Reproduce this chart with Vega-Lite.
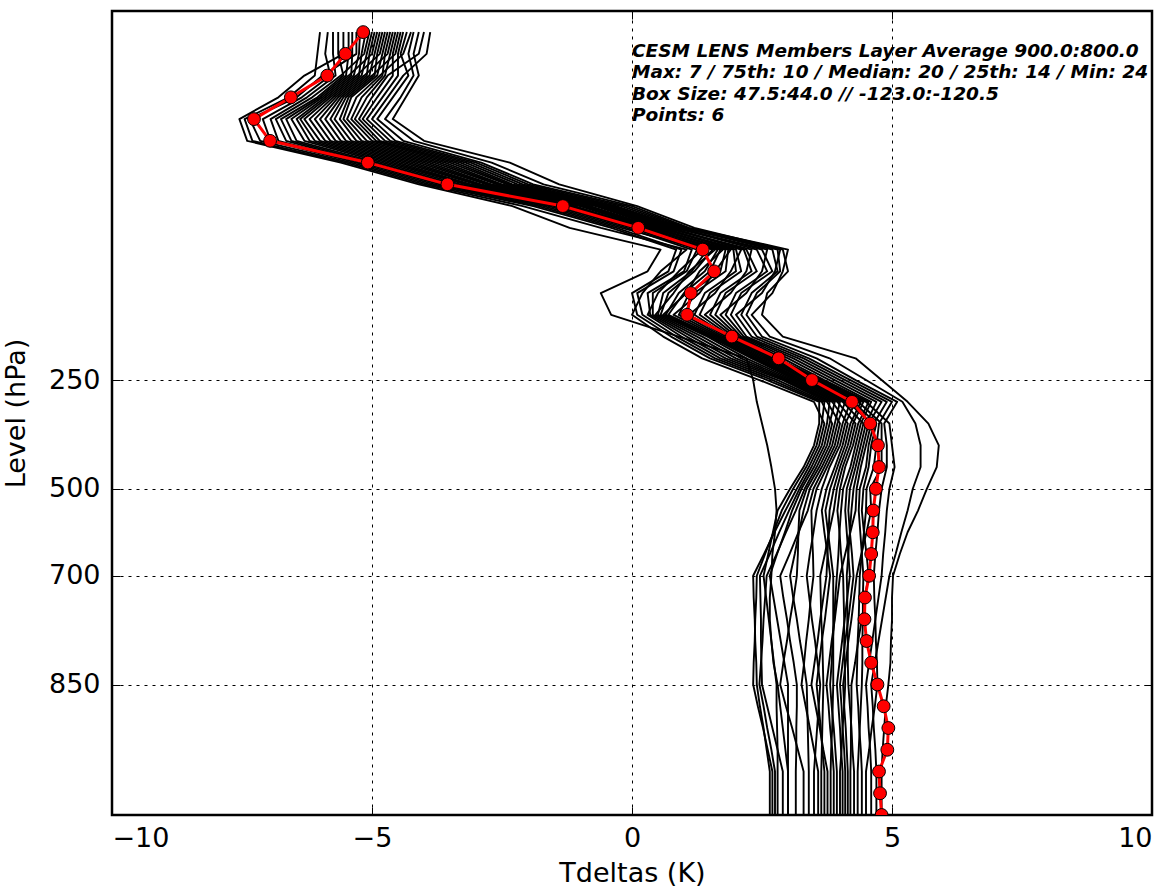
{
  "$schema": "https://vega.github.io/schema/vega-lite/v6.json",
  "autosize": {"type": "none"},
  "width": 1040,
  "height": 804,
  "padding": {"left": 112, "top": 11, "right": 23, "bottom": 75},
  "background": "white",
  "config": {
    "view": {"stroke": "#000000", "strokeWidth": 2.5},
    "font": "DejaVu Sans",
    "axis": {
      "labelFont": "DejaVu Sans", "titleFont": "DejaVu Sans",
      "labelFontSize": 27, "titleFontSize": 27, "titleFontWeight": "normal",
      "labelColor": "#000000", "titleColor": "#000000",
      "domain": false, "tickColor": "#000000", "tickSize": -8, "tickWidth": 1,
      "gridColor": "#000000", "gridDash": [3, 5], "gridWidth": 1, "gridOpacity": 1
    }
  },
  "datasets": {
    "members": [
      {"k":0,"m0":-5.55,"m1":-6.0,"m2":-5.3,"m3":-5.85,"m4":-5.75,"m5":-5.05,"m6":-5.65,"m7":-5.45,"m8":-4.9,"m9":-5.38,"m10":-5.23,"m11":-4.75,"m12":-5.12,"m13":-5.0,"m14":-4.6,"m15":-4.95,"m16":-4.85,"m17":-4.45,"m18":-4.8,"m19":-4.7,"m20":-4.25,"m21":-4.65,"m22":-4.55,"m23":-4.0,"m24":-4.5,"m25":-4.4,"m26":-3.88,"m27":-4.33,"m28":-4.2,"m29":-4.1},
      {"k":1,"m0":-5.55,"m1":-6.05,"m2":-5.3,"m3":-5.9,"m4":-5.75,"m5":-5.15,"m6":-5.65,"m7":-5.45,"m8":-5.0,"m9":-5.38,"m10":-5.25,"m11":-4.85,"m12":-5.2,"m13":-5.1,"m14":-4.7,"m15":-5.05,"m16":-4.95,"m17":-4.55,"m18":-4.9,"m19":-4.8,"m20":-4.4,"m21":-4.75,"m22":-4.65,"m23":-4.1,"m24":-4.6,"m25":-4.5,"m26":-3.95,"m27":-4.45,"m28":-4.3,"m29":-4.2},
      {"k":2,"m0":-6.3,"m1":-6.1,"m2":-5.95,"m3":-5.8,"m4":-5.7,"m5":-5.6,"m6":-5.55,"m7":-5.5,"m8":-5.45,"m9":-5.4,"m10":-5.35,"m11":-5.3,"m12":-5.25,"m13":-5.2,"m14":-5.15,"m15":-5.1,"m16":-5.05,"m17":-5.0,"m18":-4.95,"m19":-4.9,"m20":-4.85,"m21":-4.8,"m22":-4.75,"m23":-4.7,"m24":-4.6,"m25":-4.5,"m26":-4.4,"m27":-4.3,"m28":-4.2,"m29":-4.1},
      {"k":3,"m0":-6.8,"m1":-6.6,"m2":-6.45,"m3":-6.35,"m4":-6.25,"m5":-6.15,"m6":-6.05,"m7":-6.0,"m8":-5.95,"m9":-5.9,"m10":-5.85,"m11":-5.8,"m12":-5.75,"m13":-5.7,"m14":-5.65,"m15":-5.6,"m16":-5.55,"m17":-5.5,"m18":-5.45,"m19":-5.4,"m20":-5.3,"m21":-5.2,"m22":-5.1,"m23":-5.0,"m24":-4.9,"m25":-4.8,"m26":-4.7,"m27":-4.6,"m28":-4.45,"m29":-4.35},
      {"k":4,"m0":-7.55,"m1":-7.45,"m2":-7.35,"m3":-7.1,"m4":-6.95,"m5":-6.85,"m6":-6.75,"m7":-6.65,"m8":-6.55,"m9":-6.45,"m10":-6.38,"m11":-6.3,"m12":-6.2,"m13":-6.1,"m14":-6.0,"m15":-5.9,"m16":-5.8,"m17":-5.72,"m18":-5.62,"m19":-5.55,"m20":-5.48,"m21":-5.4,"m22":-5.33,"m23":-5.25,"m24":-5.18,"m25":-5.1,"m26":-5.0,"m27":-4.9,"m28":-4.75,"m29":-4.6},
      {"k":5,"m0":-7.4,"m1":-7.3,"m2":-7.15,"m3":-6.95,"m4":-6.8,"m5":-6.65,"m6":-6.55,"m7":-6.45,"m8":-6.3,"m9":-6.2,"m10":-6.1,"m11":-6.0,"m12":-5.9,"m13":-5.8,"m14":-5.7,"m15":-5.6,"m16":-5.5,"m17":-5.4,"m18":-5.3,"m19":-5.2,"m20":-5.1,"m21":-5.0,"m22":-4.92,"m23":-4.85,"m24":-4.75,"m25":-4.65,"m26":-4.55,"m27":-4.4,"m28":-4.2,"m29":-4.0},
      {"k":6,"m0":-5.6,"m1":-5.5,"m2":-5.4,"m3":-5.3,"m4":-5.2,"m5":-5.1,"m6":-5.0,"m7":-4.9,"m8":-4.8,"m9":-4.7,"m10":-4.6,"m11":-4.5,"m12":-4.4,"m13":-4.3,"m14":-4.2,"m15":-4.1,"m16":-4.0,"m17":-3.9,"m18":-3.8,"m19":-3.7,"m20":-3.6,"m21":-3.5,"m22":-3.4,"m23":-3.3,"m24":-3.2,"m25":-3.1,"m26":-3.0,"m27":-2.9,"m28":-2.7,"m29":-2.35},
      {"k":7,"m0":-4.1,"m1":-4.0,"m2":-3.9,"m3":-3.8,"m4":-3.7,"m5":-3.6,"m6":-3.5,"m7":-3.4,"m8":-3.3,"m9":-3.2,"m10":-3.15,"m11":-3.1,"m12":-3.0,"m13":-2.95,"m14":-2.9,"m15":-2.8,"m16":-2.75,"m17":-2.7,"m18":-2.6,"m19":-2.55,"m20":-2.5,"m21":-2.4,"m22":-2.35,"m23":-2.3,"m24":-2.2,"m25":-2.1,"m26":-2.0,"m27":-1.9,"m28":-1.7,"m29":-1.4},
      {"k":8,"m0":-2.3,"m1":-2.1,"m2":-1.9,"m3":-1.8,"m4":-1.7,"m5":-1.6,"m6":-1.5,"m7":-1.4,"m8":-1.3,"m9":-1.2,"m10":-1.15,"m11":-1.1,"m12":-1.0,"m13":-0.95,"m14":-0.9,"m15":-0.85,"m16":-0.8,"m17":-0.7,"m18":-0.65,"m19":-0.6,"m20":-0.55,"m21":-0.5,"m22":-0.45,"m23":-0.4,"m24":-0.35,"m25":-0.3,"m26":-0.2,"m27":-0.1,"m28":0.0,"m29":0.1},
      {"k":9,"m0":-1.2,"m1":-0.6,"m2":-0.4,"m3":-0.3,"m4":-0.2,"m5":-0.1,"m6":0.0,"m7":0.05,"m8":0.1,"m9":0.15,"m10":0.2,"m11":0.25,"m12":0.3,"m13":0.35,"m14":0.4,"m15":0.45,"m16":0.5,"m17":0.55,"m18":0.6,"m19":0.65,"m20":0.7,"m21":0.75,"m22":0.8,"m23":0.85,"m24":0.9,"m25":0.95,"m26":1.0,"m27":1.05,"m28":1.1,"m29":1.2},
      {"k":10,"m0":0.55,"m1":1.05,"m2":0.85,"m3":0.95,"m4":1.35,"m5":1.15,"m6":1.25,"m7":1.6,"m8":1.45,"m9":1.55,"m10":1.75,"m11":1.65,"m12":1.7,"m13":1.9,"m14":1.8,"m15":1.85,"m16":2.1,"m17":1.95,"m18":2.0,"m19":2.3,"m20":2.15,"m21":2.2,"m22":2.6,"m23":2.4,"m24":2.5,"m25":2.85,"m26":2.7,"m27":2.8,"m28":3.0,"m29":2.9},
      {"k":11,"m0":0.3,"m1":0.55,"m2":0.7,"m3":0.8,"m4":0.9,"m5":1.0,"m6":1.05,"m7":1.1,"m8":1.15,"m9":1.2,"m10":1.3,"m11":1.4,"m12":1.5,"m13":1.6,"m14":1.7,"m15":1.8,"m16":1.9,"m17":2.0,"m18":2.1,"m19":2.2,"m20":2.3,"m21":2.4,"m22":2.5,"m23":2.6,"m24":2.7,"m25":2.75,"m26":2.8,"m27":2.85,"m28":2.9,"m29":3.0},
      {"k":12,"m0":-0.6,"m1":0.2,"m2":0.0,"m3":0.1,"m4":0.5,"m5":0.3,"m6":0.4,"m7":0.8,"m8":0.6,"m9":0.7,"m10":1.05,"m11":0.9,"m12":1.0,"m13":1.3,"m14":1.1,"m15":1.2,"m16":1.6,"m17":1.4,"m18":1.5,"m19":1.9,"m20":1.7,"m21":1.8,"m22":2.2,"m23":2.0,"m24":2.1,"m25":2.5,"m26":2.3,"m27":2.4,"m28":2.7,"m29":2.6},
      {"k":13,"m0":-0.4,"m1":0.0,"m2":0.1,"m3":0.2,"m4":0.3,"m5":0.35,"m6":0.4,"m7":0.45,"m8":0.5,"m9":0.55,"m10":0.6,"m11":0.65,"m12":0.7,"m13":0.8,"m14":0.9,"m15":1.0,"m16":1.1,"m17":1.2,"m18":1.3,"m19":1.4,"m20":1.5,"m21":1.6,"m22":1.7,"m23":1.8,"m24":1.9,"m25":2.0,"m26":2.1,"m27":2.2,"m28":2.3,"m29":2.5},
      {"k":14,"m0":0.9,"m1":0.6,"m2":0.75,"m3":0.85,"m4":0.95,"m5":1.05,"m6":1.15,"m7":1.25,"m8":1.35,"m9":1.45,"m10":1.5,"m11":1.55,"m12":1.6,"m13":1.65,"m14":1.7,"m15":1.75,"m16":1.8,"m17":1.85,"m18":1.9,"m19":1.95,"m20":2.0,"m21":2.05,"m22":2.1,"m23":2.15,"m24":2.2,"m25":2.3,"m26":2.4,"m27":2.5,"m28":2.65,"m29":2.9},
      {"k":15,"m0":2.2,"m1":1.35,"m2":1.5,"m3":1.6,"m4":1.7,"m5":1.8,"m6":1.9,"m7":2.0,"m8":2.1,"m9":2.2,"m10":2.3,"m11":2.35,"m12":2.4,"m13":2.45,"m14":2.5,"m15":2.55,"m16":2.6,"m17":2.65,"m18":2.7,"m19":2.75,"m20":2.8,"m21":2.9,"m22":3.0,"m23":3.1,"m24":3.2,"m25":3.3,"m26":3.4,"m27":3.55,"m28":3.8,"m29":4.3},
      {"k":16,"m0":2.33,"m1":2.45,"m2":2.6,"m3":2.7,"m4":2.8,"m5":2.9,"m6":2.95,"m7":3.0,"m8":3.05,"m9":3.1,"m10":3.15,"m11":3.2,"m12":3.25,"m13":3.3,"m14":3.35,"m15":3.4,"m16":3.45,"m17":3.5,"m18":3.55,"m19":3.6,"m20":3.65,"m21":3.7,"m22":3.8,"m23":3.9,"m24":4.0,"m25":4.1,"m26":4.2,"m27":4.3,"m28":4.5,"m29":4.8},
      {"k":17,"m0":2.4,"m1":3.5,"m2":3.6,"m3":3.65,"m4":3.7,"m5":3.75,"m6":3.8,"m7":3.85,"m8":3.9,"m9":3.95,"m10":4.0,"m11":4.05,"m12":4.1,"m13":4.15,"m14":4.2,"m15":4.25,"m16":4.3,"m17":4.35,"m18":4.4,"m19":4.45,"m20":4.5,"m21":4.55,"m22":4.6,"m23":4.7,"m24":4.8,"m25":4.9,"m26":5.0,"m27":5.1,"m28":5.2,"m29":5.3},
      {"k":18,"m0":2.5,"m1":3.7,"m2":3.6,"m3":3.85,"m4":3.65,"m5":4.0,"m6":3.75,"m7":4.15,"m8":3.8,"m9":4.3,"m10":3.9,"m11":4.45,"m12":3.95,"m13":4.6,"m14":4.05,"m15":4.7,"m16":4.1,"m17":4.8,"m18":4.2,"m19":4.25,"m20":4.95,"m21":4.35,"m22":4.4,"m23":4.5,"m24":4.55,"m25":4.65,"m26":4.75,"m27":4.85,"m28":5.45,"m29":5.7},
      {"k":19,"m0":2.6,"m1":3.6,"m2":3.5,"m3":3.75,"m4":3.55,"m5":3.9,"m6":3.65,"m7":4.05,"m8":3.7,"m9":4.2,"m10":3.8,"m11":4.35,"m12":3.85,"m13":4.5,"m14":3.95,"m15":4.6,"m16":4.0,"m17":4.8,"m18":4.1,"m19":4.15,"m20":5.0,"m21":4.25,"m22":4.3,"m23":4.4,"m24":4.45,"m25":4.55,"m26":4.7,"m27":4.9,"m28":5.55,"m29":5.9},
      {"k":20,"m0":2.68,"m1":3.4,"m2":3.3,"m3":3.55,"m4":3.35,"m5":3.7,"m6":3.45,"m7":3.9,"m8":3.5,"m9":4.05,"m10":3.6,"m11":4.25,"m12":3.65,"m13":4.4,"m14":3.75,"m15":4.55,"m16":3.8,"m17":4.8,"m18":3.95,"m19":4.0,"m20":5.05,"m21":4.1,"m22":4.2,"m23":4.3,"m24":4.35,"m25":4.5,"m26":4.65,"m27":4.9,"m28":5.55,"m29":5.86},
      {"k":21,"m0":2.75,"m1":3.17,"m2":3.04,"m3":3.32,"m4":3.1,"m5":3.49,"m6":3.22,"m7":3.74,"m8":3.26,"m9":3.94,"m10":3.36,"m11":4.13,"m12":3.42,"m13":4.32,"m14":3.55,"m15":4.45,"m16":3.65,"m17":4.58,"m18":3.81,"m19":3.88,"m20":4.95,"m21":4.0,"m22":4.06,"m23":4.19,"m24":4.26,"m25":4.38,"m26":4.51,"m27":4.8,"m28":5.4,"m29":5.67},
      {"k":22,"m0":2.78,"m1":2.95,"m2":2.8,"m3":3.15,"m4":2.88,"m5":3.38,"m6":3.02,"m7":3.65,"m8":3.08,"m9":3.88,"m10":3.22,"m11":4.1,"m12":3.3,"m13":4.3,"m14":3.45,"m15":4.42,"m16":3.55,"m17":4.6,"m18":3.72,"m19":3.8,"m20":4.9,"m21":3.95,"m22":4.02,"m23":4.16,"m24":4.22,"m25":4.36,"m26":4.5,"m27":4.75,"m28":5.3,"m29":5.5},
      {"k":23,"m0":2.75,"m1":2.74,"m2":2.71,"m3":2.96,"m4":2.72,"m5":3.2,"m6":2.83,"m7":3.7,"m8":2.94,"m9":3.79,"m10":3.2,"m11":4.13,"m12":3.21,"m13":4.2,"m14":3.46,"m15":4.46,"m16":3.49,"m17":4.51,"m18":3.77,"m19":3.78,"m20":4.87,"m21":3.99,"m22":3.99,"m23":4.19,"m24":4.19,"m25":4.39,"m26":4.46,"m27":4.72,"m28":5.18,"m29":5.3},
      {"k":24,"m0":2.7,"m1":2.54,"m2":2.62,"m3":2.78,"m4":2.56,"m5":3.03,"m6":2.65,"m7":3.76,"m8":2.79,"m9":3.71,"m10":3.19,"m11":4.16,"m12":3.13,"m13":4.1,"m14":3.48,"m15":4.51,"m16":3.42,"m17":4.41,"m18":3.82,"m19":3.76,"m20":4.83,"m21":4.02,"m22":3.97,"m23":4.23,"m24":4.16,"m25":4.42,"m26":4.42,"m27":4.68,"m28":5.07,"m29":5.15},
      {"k":25,"m0":2.68,"m1":2.33,"m2":2.53,"m3":2.59,"m4":2.4,"m5":2.85,"m6":2.46,"m7":3.81,"m8":2.65,"m9":3.62,"m10":3.17,"m11":4.19,"m12":3.04,"m13":4.0,"m14":3.49,"m15":4.55,"m16":3.36,"m17":4.32,"m18":3.87,"m19":3.74,"m20":4.8,"m21":4.06,"m22":3.94,"m23":4.26,"m24":4.13,"m25":4.45,"m26":4.38,"m27":4.65,"m28":4.95,"m29":5.02},
      {"k":26,"m0":2.65,"m1":2.34,"m2":2.58,"m3":2.56,"m4":2.39,"m5":2.91,"m6":2.47,"m7":3.76,"m8":2.72,"m9":3.63,"m10":3.11,"m11":4.14,"m12":3.1,"m13":3.95,"m14":3.44,"m15":4.48,"m16":3.41,"m17":4.27,"m18":3.87,"m19":3.68,"m20":4.74,"m21":4.07,"m22":3.91,"m23":4.21,"m24":4.14,"m25":4.44,"m26":4.37,"m27":4.66,"m28":4.88,"m29":5.0},
      {"k":27,"m0":2.65,"m1":2.36,"m2":2.63,"m3":2.53,"m4":2.37,"m5":2.98,"m6":2.48,"m7":3.71,"m8":2.79,"m9":3.64,"m10":3.04,"m11":4.09,"m12":3.17,"m13":3.9,"m14":3.4,"m15":4.42,"m16":3.46,"m17":4.22,"m18":3.87,"m19":3.62,"m20":4.68,"m21":4.08,"m22":3.89,"m23":4.16,"m24":4.14,"m25":4.44,"m26":4.36,"m27":4.68,"m28":4.81,"m29":5.0},
      {"k":28,"m0":2.68,"m1":2.37,"m2":2.68,"m3":2.51,"m4":2.36,"m5":3.04,"m6":2.48,"m7":3.65,"m8":2.86,"m9":3.66,"m10":2.98,"m11":4.04,"m12":3.23,"m13":3.84,"m14":3.35,"m15":4.35,"m16":3.52,"m17":4.16,"m18":3.87,"m19":3.57,"m20":4.62,"m21":4.08,"m22":3.86,"m23":4.1,"m24":4.15,"m25":4.43,"m26":4.34,"m27":4.69,"m28":4.74,"m29":4.98},
      {"k":29,"m0":2.72,"m1":2.39,"m2":2.73,"m3":2.48,"m4":2.34,"m5":3.11,"m6":2.49,"m7":3.6,"m8":2.93,"m9":3.67,"m10":2.91,"m11":3.99,"m12":3.3,"m13":3.79,"m14":3.31,"m15":4.29,"m16":3.57,"m17":4.11,"m18":3.87,"m19":3.51,"m20":4.56,"m21":4.09,"m22":3.84,"m23":4.05,"m24":4.15,"m25":4.43,"m26":4.33,"m27":4.71,"m28":4.67,"m29":4.97},
      {"k":30,"m0":2.8,"m1":2.4,"m2":2.78,"m3":2.45,"m4":2.33,"m5":3.17,"m6":2.5,"m7":3.55,"m8":3.0,"m9":3.68,"m10":2.85,"m11":3.94,"m12":3.36,"m13":3.74,"m14":3.26,"m15":4.22,"m16":3.62,"m17":4.06,"m18":3.87,"m19":3.45,"m20":4.5,"m21":4.1,"m22":3.81,"m23":4.0,"m24":4.16,"m25":4.42,"m26":4.32,"m27":4.72,"m28":4.6,"m29":4.93},
      {"k":31,"m0":2.85,"m1":2.46,"m2":2.78,"m3":2.53,"m4":2.42,"m5":3.17,"m6":2.6,"m7":3.59,"m8":3.0,"m9":3.67,"m10":2.96,"m11":3.97,"m12":3.37,"m13":3.78,"m14":3.34,"m15":4.22,"m16":3.59,"m17":4.08,"m18":3.86,"m19":3.53,"m20":4.53,"m21":4.08,"m22":3.84,"m23":4.03,"m24":4.19,"m25":4.4,"m26":4.35,"m27":4.67,"m28":4.63,"m29":4.88},
      {"k":32,"m0":2.9,"m1":2.53,"m2":2.79,"m3":2.6,"m4":2.52,"m5":3.16,"m6":2.7,"m7":3.63,"m8":3.0,"m9":3.66,"m10":3.08,"m11":4.0,"m12":3.38,"m13":3.81,"m14":3.42,"m15":4.21,"m16":3.56,"m17":4.11,"m18":3.85,"m19":3.61,"m20":4.55,"m21":4.05,"m22":3.88,"m23":4.05,"m24":4.22,"m25":4.38,"m26":4.37,"m27":4.61,"m28":4.65,"m29":4.85},
      {"k":33,"m0":2.95,"m1":2.59,"m2":2.8,"m3":2.68,"m4":2.61,"m5":3.16,"m6":2.8,"m7":3.66,"m8":3.0,"m9":3.65,"m10":3.19,"m11":4.02,"m12":3.39,"m13":3.85,"m14":3.5,"m15":4.21,"m16":3.53,"m17":4.13,"m18":3.83,"m19":3.68,"m20":4.58,"m21":4.03,"m22":3.91,"m23":4.08,"m24":4.24,"m25":4.36,"m26":4.4,"m27":4.56,"m28":4.68,"m29":4.82},
      {"k":34,"m0":3.0,"m1":2.65,"m2":2.8,"m3":2.75,"m4":2.7,"m5":3.15,"m6":2.9,"m7":3.7,"m8":3.0,"m9":3.64,"m10":3.3,"m11":4.05,"m12":3.4,"m13":3.88,"m14":3.58,"m15":4.2,"m16":3.5,"m17":4.15,"m18":3.82,"m19":3.76,"m20":4.6,"m21":4.0,"m22":3.94,"m23":4.1,"m24":4.27,"m25":4.34,"m26":4.42,"m27":4.5,"m28":4.7,"m29":4.8},
      {"k":35,"m0":3.0,"m1":2.65,"m2":2.8,"m3":2.75,"m4":2.7,"m5":3.15,"m6":2.9,"m7":3.7,"m8":3.0,"m9":3.64,"m10":3.3,"m11":4.05,"m12":3.4,"m13":3.88,"m14":3.58,"m15":4.2,"m16":3.5,"m17":4.15,"m18":3.82,"m19":3.76,"m20":4.6,"m21":4.0,"m22":3.94,"m23":4.1,"m24":4.27,"m25":4.34,"m26":4.42,"m27":4.5,"m28":4.7,"m29":4.8},
      {"k":36,"m0":3.0,"m1":2.65,"m2":2.8,"m3":2.75,"m4":2.7,"m5":3.15,"m6":2.9,"m7":3.7,"m8":3.0,"m9":3.64,"m10":3.3,"m11":4.05,"m12":3.4,"m13":3.88,"m14":3.58,"m15":4.2,"m16":3.5,"m17":4.15,"m18":3.82,"m19":3.76,"m20":4.6,"m21":4.0,"m22":3.94,"m23":4.1,"m24":4.27,"m25":4.34,"m26":4.42,"m27":4.5,"m28":4.7,"m29":4.8}
    ],
    "red": [
      {"k":0,"t":-5.17},{"k":1,"t":-5.51},{"k":2,"t":-5.86},{"k":3,"t":-6.56},{"k":4,"t":-7.27},{"k":5,"t":-6.96},{"k":6,"t":-5.08},{"k":7,"t":-3.55},{"k":8,"t":-1.33},{"k":9,"t":0.12},{"k":10,"t":1.36},{"k":11,"t":1.58},{"k":12,"t":1.13},{"k":13,"t":1.06},{"k":14,"t":1.92},{"k":15,"t":2.82},{"k":16,"t":3.46},{"k":17,"t":4.23},{"k":18,"t":4.58},{"k":19,"t":4.73},{"k":20,"t":4.75},{"k":21,"t":4.69},{"k":22,"t":4.64},{"k":23,"t":4.63},{"k":24,"t":4.6},{"k":25,"t":4.56},{"k":26,"t":4.48},{"k":27,"t":4.47},{"k":28,"t":4.51},{"k":29,"t":4.6},{"k":30,"t":4.72},{"k":31,"t":4.84},{"k":32,"t":4.93},{"k":33,"t":4.91},{"k":34,"t":4.75},{"k":35,"t":4.77},{"k":36,"t":4.8}
    ]
  },
  "layer": [
    {
      "data": {"name": "members"},
      "transform": [{"fold": ["m0","m1","m2","m3","m4","m5","m6","m7","m8","m9","m10","m11","m12","m13","m14","m15","m16","m17","m18","m19","m20","m21","m22","m23","m24","m25","m26","m27","m28","m29"], "as": ["member", "t"]}],
      "mark": {"type": "line", "color": "#000000", "strokeWidth": 1.9, "strokeJoin": "round", "clip": true},
      "encoding": {
        "x": {"field": "t", "type": "quantitative", "scale": {"domain": [-10, 10], "nice": false, "zero": false},
              "axis": {"orient": "bottom", "values": [-10, -5, 0, 5, 10], "format": "d", "title": "Tdeltas (K)", "grid": true, "labelPadding": 18, "titlePadding": 9}},
        "y": {"field": "k", "type": "quantitative", "scale": {"domain": [-0.97, 36], "reverse": true, "nice": false, "zero": false},
              "axis": {"orient": "left", "values": [16, 21, 25, 30], "labelExpr": "datum.value == 16 ? '250' : datum.value == 21 ? '500' : datum.value == 25 ? '700' : '850'", "title": "Level (hPa)", "grid": true, "labelPadding": 20, "titlePadding": 18}},
        "detail": {"field": "member", "type": "nominal"},
        "order": {"field": "k", "type": "quantitative"}
      }
    },
    {
      "data": {"name": "red"},
      "mark": {"type": "line", "color": "#ff0000", "strokeWidth": 3, "strokeJoin": "round", "clip": true,
               "point": {"filled": true, "fill": "#ff0000", "stroke": "#000000", "strokeWidth": 1, "size": 165, "opacity": 1}},
      "encoding": {
        "x": {"field": "t", "type": "quantitative", "axis": {"orient": "top", "values": [-10, -5, 0, 5, 10], "labels": false, "title": null, "grid": false}},
        "y": {"field": "k", "type": "quantitative", "axis": {"orient": "right", "values": [16, 21, 25, 30], "labels": false, "title": null, "grid": false}},
        "order": {"field": "k", "type": "quantitative"}
      }
    },
    {
      "data": {"values": [{}]},
      "mark": {"type": "text", "text": ["CESM LENS Members Layer Average 900.0:800.0", "Max: 7 / 75th: 10 / Median: 20 / 25th: 14 / Min: 24", "Box Size: 47.5:44.0 // -123.0:-120.5", "Points: 6"],
               "align": "left", "baseline": "alphabetic", "font": "DejaVu Sans", "fontSize": 18.5, "fontWeight": "bold", "fontStyle": "italic", "lineHeight": 21.6, "color": "#000000", "clip": true},
      "encoding": {
        "x": {"datum": 0, "type": "quantitative", "axis": null},
        "y": {"datum": 1.13, "type": "quantitative", "axis": null}
      }
    }
  ],
  "resolve": {"axis": {"x": "independent", "y": "independent"}}
}
